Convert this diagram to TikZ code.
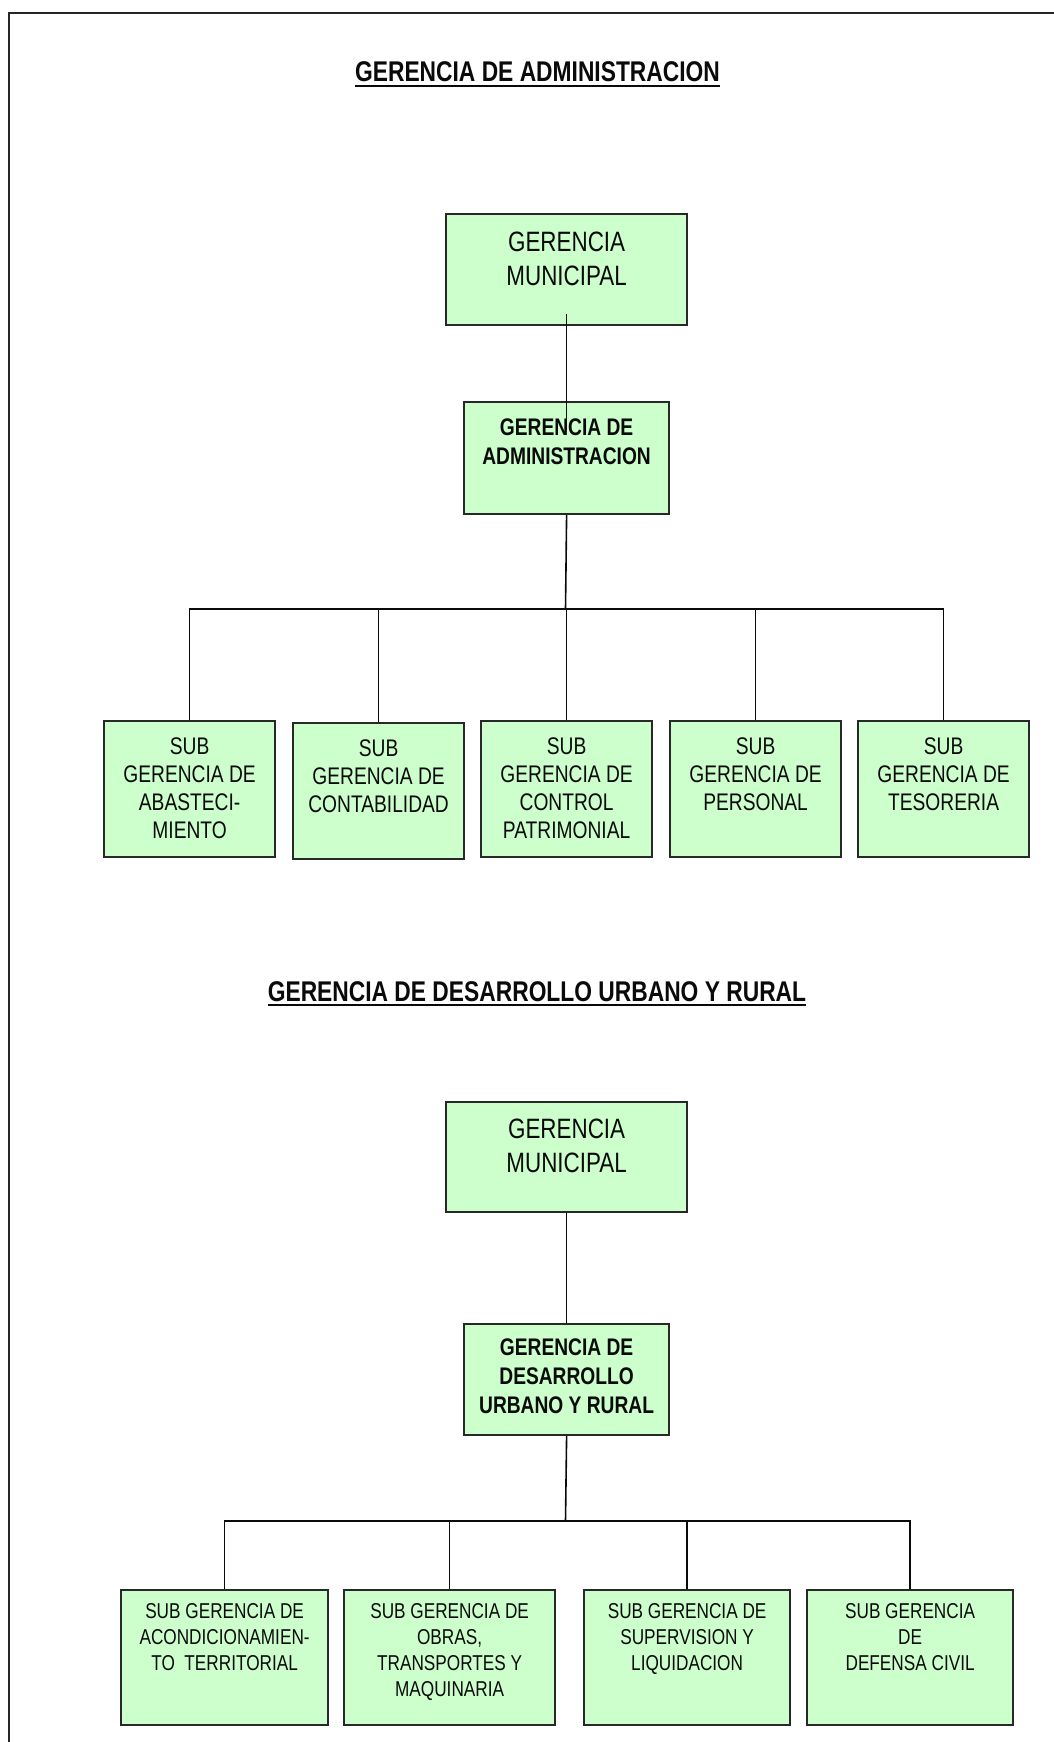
\documentclass[tikz,border=0pt]{standalone}
\usepackage{fontspec}
\setmainfont[FakeStretch=0.8]{Liberation Sans}
\definecolor{boxfill}{RGB}{204,255,204}
\definecolor{boxline}{RGB}{40,40,40}
\definecolor{ink}{RGB}{10,10,10}
% width, height, first-baseline offset, font size, baselineskip, text
\newcommand\boxtxt[6]{\parbox[t][#2pt][t]{#1pt}{\centering\fontsize{#4pt}{#5pt}\selectfont\rule{0pt}{#3pt}#6}}
\tikzset{
  orgbox/.style={draw=boxline, line width=2.2pt, fill=boxfill, inner sep=0pt, anchor=north west, text=ink},
  conn/.style={draw=ink, line width=1.6pt},
  titletext/.style={anchor=base, inner sep=0pt, text=ink, font=\bfseries\fontsize{28.5pt}{30pt}\selectfont},
  uline/.style={draw=ink, line width=2.6pt}
}
\begin{document}
\begin{tikzpicture}[x=1pt, y=-1pt]
\useasboundingbox (0,0) rectangle (1054,1742);
\fill[white] (0,0) rectangle (1054,1742);
\draw[line width=2.6pt, draw=black!85] (9,1742) -- (9,13) -- (1054,13);

% ---------- Chart 1 ----------
\node[titletext] (t1) at (537.5,82) {GERENCIA DE ADMINISTRACION};
\draw[uline] ([yshift=-4pt]t1.base west) -- ([yshift=-4pt]t1.base east);

\node[orgbox] (gm1) at (445,213) {\boxtxt{241}{111}{37}{28}{34}{GERENCIA\\MUNICIPAL}};
\node[orgbox] (ga) at (463,401) {\boxtxt{205}{112}{33}{24}{29}{\bfseries GERENCIA DE\\ADMINISTRACION}};

\node[orgbox] (s1) at (103,720) {\boxtxt{171}{136}{33}{24}{28}{SUB\\GERENCIA DE\\ABASTECI-\\MIENTO}};
\node[orgbox] (s2) at (292,722) {\boxtxt{171}{136}{33}{24}{28}{SUB\\GERENCIA DE\\CONTABILIDAD}};
\node[orgbox] (s3) at (480,720) {\boxtxt{171}{136}{33}{24}{28}{SUB\\GERENCIA DE\\CONTROL\\PATRIMONIAL}};
\node[orgbox] (s4) at (669,720) {\boxtxt{171}{136}{33}{24}{28}{SUB\\GERENCIA DE\\PERSONAL}};
\node[orgbox] (s5) at (857,720) {\boxtxt{171}{136}{33}{24}{28}{SUB\\GERENCIA DE\\TESORERIA}};

\coordinate (bus1) at (565.5,609);
\draw[conn] ([yshift=12pt]gm1.south) -- ([yshift=-29pt]ga.north);
\draw[conn] (ga.south) -- (bus1);
\draw[conn] (s1.north) |- (bus1) -| (s5.north);
\foreach \n in {s2,s3,s4} \draw[conn] (\n.north) -- (\n.north |- bus1);

% ---------- Chart 2 ----------
\node[titletext] (t2) at (537,1001) {GERENCIA DE DESARROLLO URBANO Y RURAL};
\draw[uline] ([yshift=-4pt]t2.base west) -- ([yshift=-4pt]t2.base east);

\node[orgbox] (gm2) at (445,1101) {\boxtxt{241}{110}{36}{28}{34}{GERENCIA\\MUNICIPAL}};
\node[orgbox] (gd) at (463,1323) {\boxtxt{205}{111}{31}{24}{29}{\bfseries GERENCIA DE\\DESARROLLO\\URBANO Y RURAL}};

\node[orgbox] (r1) at (120,1589) {\boxtxt{207}{135}{28}{21.5}{26}{SUB GERENCIA DE\\ACONDICIONAMIEN-\\TO\ \ TERRITORIAL}};
\node[orgbox] (r2) at (343,1589) {\boxtxt{211}{135}{28}{21.5}{26}{SUB GERENCIA DE\\OBRAS,\\TRANSPORTES Y\\MAQUINARIA}};
\node[orgbox] (r3) at (583,1589) {\boxtxt{206}{135}{28}{21.5}{26}{SUB GERENCIA DE\\SUPERVISION Y\\LIQUIDACION}};
\node[orgbox] (r4) at (806,1589) {\boxtxt{206}{135}{28}{21.5}{26}{SUB GERENCIA\\DE\\DEFENSA CIVIL}};

\coordinate (bus2) at (565.5,1521);
\draw[conn] (gm2.south) -- (gd.north);
\draw[conn] (gd.south) -- (bus2);
\draw[conn] (r1.north) |- (bus2) -| (r4.north);
\foreach \n in {r2,r3} \draw[conn] (\n.north) -- (\n.north |- bus2);
\end{tikzpicture}
\end{document}
